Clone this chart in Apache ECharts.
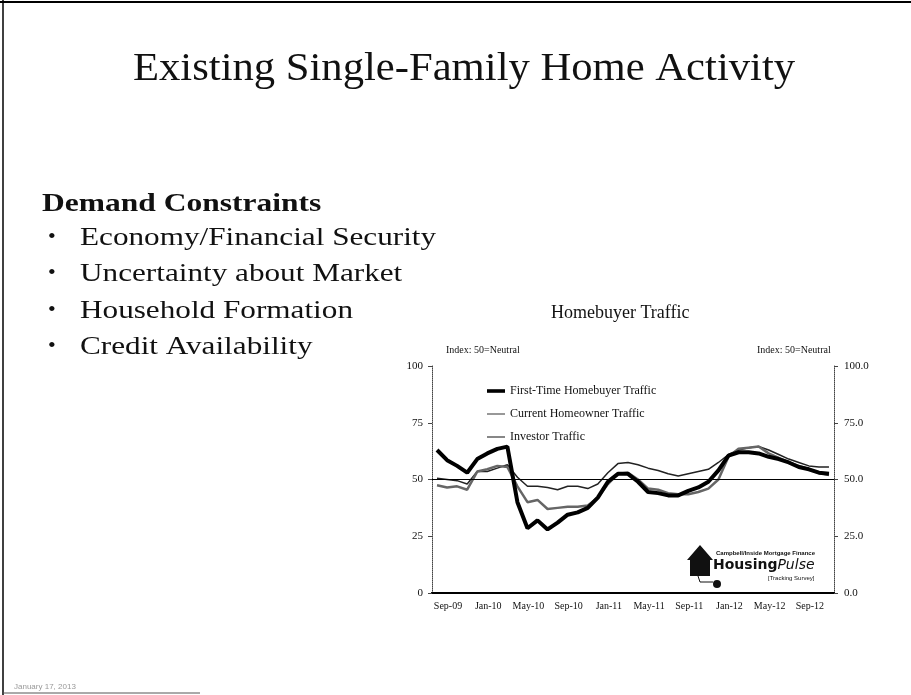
<!DOCTYPE html>
<html>
<head>
<meta charset="utf-8">
<script src="https://cdn.jsdelivr.net/npm/echarts@6/dist/echarts.min.js"></script>
<style>
  html, body { margin: 0; padding: 0; background: #fff; }
  #slide { width: 911px; height: 695px; }
</style>
</head>
<body>
<div id="slide"></div>
<script>
const categories = [
  "Sep-09", "Oct-09", "Nov-09", "Dec-09",
  "Jan-10", "Feb-10", "Mar-10", "Apr-10", "May-10", "Jun-10", "Jul-10", "Aug-10", "Sep-10", "Oct-10", "Nov-10", "Dec-10",
  "Jan-11", "Feb-11", "Mar-11", "Apr-11", "May-11", "Jun-11", "Jul-11", "Aug-11", "Sep-11", "Oct-11", "Nov-11", "Dec-11",
  "Jan-12", "Feb-12", "Mar-12", "Apr-12", "May-12", "Jun-12", "Jul-12", "Aug-12", "Sep-12", "Oct-12", "Nov-12", "Dec-12"
];
const firstTime = [63, 58.5, 56, 53, 59, 61.5, 63.5, 64.5, 40, 28.5,
  32, 28, 31, 34.5, 35.5, 37.5, 42, 49, 52.5, 52.5,
  49, 44.5, 44, 43, 43, 45, 46.5, 49, 54, 60.5,
  62, 62, 61.5, 60, 59, 57.5, 55.5, 54.5, 53, 52.5];
const currentOwner = [47.5, 46.5, 47, 45.5, 53.5, 54.5, 56, 55.5, 47, 40,
  41, 37, 37.5, 38, 38, 38.5, 42, 48, 52.5, 53,
  50, 46, 45.5, 44, 43.5, 43.5, 44.5, 46, 50, 60,
  63.5, 64, 64.5, 61.5, 59.5, 57.5, 56, 54.5, 53, 52];
const investor = [50.5, 50, 49.5, 48, 53.5, 53.5, 55, 56.5, 51, 47,
  47, 46.5, 45.5, 47, 47, 46, 48, 53, 57, 57.5,
  56.5, 55, 54, 52.5, 51.5, 52.5, 53.5, 54.5, 57.5, 61,
  63, 64, 64.5, 63, 61, 59, 57.5, 56, 55.5, 55.5];
const yTicks = [0, 25, 50, 75, 100];
const bullets = [
  "Economy/Financial Security",
  "Uncertainty about Market",
  "Household Formation",
  "Credit Availability"
];

const serif = "Liberation Serif";
const chart = echarts.init(document.getElementById("slide"));

// thin legend lines keep a 4px-high box so they sit centred like the thick one
const thickIcon = "path://M0,0L20,0L20,4L0,4Z";
const thinIcon = "path://M0,0L20,0L20,0.01L0,0.01Z M0,1.4L20,1.4L20,2.6L0,2.6Z M0,3.99L20,3.99L20,4L0,4Z";

// slide text + frame
const graphics = [
  { type: "line", shape: { x1: 0, y1: 2, x2: 911, y2: 2 }, style: { stroke: "#000", lineWidth: 2 } },
  { type: "line", shape: { x1: 3, y1: 0, x2: 3, y2: 695 }, style: { stroke: "#000", lineWidth: 1.5 } },
  { type: "line", shape: { x1: 3, y1: 693, x2: 200, y2: 693 }, style: { stroke: "#555", lineWidth: 1 } },
  {
    type: "text", left: 133, top: 49, scaleX: 1.04,
    style: { text: "Existing Single-Family Home Activity", font: "41px '" + serif + "'", fill: "#111" }
  },
  {
    type: "text", left: 42, top: 192, scaleX: 1.26,
    style: { text: "Demand Constraints", font: "bold 25px '" + serif + "'", fill: "#111" }
  },
  {
    type: "text", left: 551, top: 304,
    style: { text: "Homebuyer Traffic", font: "18px '" + serif + "'", fill: "#111" }
  },
  {
    type: "text", left: 446, top: 345,
    style: { text: "Index: 50=Neutral", font: "10px '" + serif + "'", fill: "#111" }
  },
  {
    type: "text", left: 757, top: 345,
    style: { text: "Index: 50=Neutral", font: "10px '" + serif + "'", fill: "#111" }
  },
  {
    type: "text", left: 14, top: 683,
    style: { text: "January 17, 2013", font: "8px sans-serif", fill: "#999" }
  },
  // HousingPulse logo
  {
    type: "polygon",
    shape: { points: [[687, 560], [700, 545], [713, 560], [710, 560], [710, 576], [690, 576], [690, 560]] },
    style: { fill: "#111" }
  },
  { type: "circle", shape: { cx: 717, cy: 584, r: 4 }, style: { fill: "#111" } },
  {
    type: "polyline", shape: { points: [[698, 576], [700, 582], [713, 582]] },
    style: { stroke: "#111", lineWidth: 1, fill: null }
  },
  {
    type: "text", left: 716, top: 550,
    style: { text: "Campbell/Inside Mortgage Finance", font: "bold 6px sans-serif", fill: "#111" }
  },
  {
    type: "text", left: 713, top: 558,
    style: {
      text: "{a|Housing}{b|Pulse}",
      rich: {
        a: { font: "bold 14px 'DejaVu Sans'", fill: "#111" },
        b: { font: "italic 14px 'DejaVu Sans'", fill: "#111" }
      }
    }
  },
  {
    type: "text", left: 768, top: 575,
    style: { text: "[Tracking Survey]", font: "6px sans-serif", fill: "#111" }
  }
];
bullets.forEach(function (b, i) {
  const y = 225 + i * 36.5;
  graphics.push({ type: "text", left: 48, top: y + 1, style: { text: "•", font: "22px '" + serif + "'", fill: "#111" } });
  graphics.push({ type: "text", left: 80, top: y, scaleX: 1.2, style: { text: b, font: "26px '" + serif + "'", fill: "#111" } });
});

chart.setOption({
  animation: false,
  backgroundColor: "#fff",
  textStyle: { fontFamily: serif },
  graphic: graphics,
  grid: { left: 432, right: 77, top: 366, bottom: 102 },
  legend: {
    orient: "vertical",
    left: 482,
    top: 379,
    itemWidth: 18,
    itemHeight: 4,
    itemGap: 9,
    textStyle: { fontFamily: serif, fontSize: 12, color: "#111", lineHeight: 14 },
    data: [
      { name: "First-Time Homebuyer Traffic", icon: thickIcon, itemStyle: { color: "#000" } },
      { name: "Current Homeowner Traffic", icon: thinIcon, itemStyle: { color: "#333" } },
      { name: "Investor Traffic", icon: thinIcon, itemStyle: { color: "#111" } }
    ]
  },
  xAxis: [
    {
      type: "category",
      data: categories,
      boundaryGap: true,
      axisLine: { lineStyle: { color: "#000", width: 2 } },
      axisTick: { show: false },
      axisLabel: {
        interval: 3,
        fontFamily: serif,
        fontSize: 10,
        color: "#111",
        margin: 8,
        padding: [0, 0, 0, 22]
      }
    },
    {
      type: "category",
      data: categories,
      position: "top",
      axisLine: { lineStyle: { color: "#000", width: 2 } },
      axisTick: { show: false },
      axisLabel: { show: false }
    }
  ],
  yAxis: [
    {
      type: "value",
      min: 0, max: 100, interval: 25,
      axisLine: { show: true, lineStyle: { color: "#444", type: "dotted", width: 1 } },
      axisTick: { show: true, length: 4, lineStyle: { color: "#444" } },
      splitLine: { show: false },
      axisLabel: { fontFamily: serif, fontSize: 11, color: "#111", margin: 9 }
    },
    {
      type: "value",
      position: "right",
      min: 0, max: 100, interval: 25,
      axisLine: { show: true, lineStyle: { color: "#444", type: "dotted", width: 1 } },
      axisTick: { show: true, length: 4, lineStyle: { color: "#444" } },
      splitLine: { show: false },
      axisLabel: {
        fontFamily: serif, fontSize: 11, color: "#111", margin: 10,
        formatter: function (v) { return v.toFixed(1); }
      }
    }
  ],
  series: [
    {
      name: "First-Time Homebuyer Traffic",
      type: "line",
      data: firstTime,
      symbol: "none",
      z: 5,
      lineStyle: { color: "#000", width: 4 },
      itemStyle: { color: "#000" },
      markLine: {
        silent: true,
        symbol: "none",
        label: { show: false },
        lineStyle: { color: "#000", width: 1.2, type: "solid" },
        data: [{ yAxis: yTicks[2] }]
      }
    },
    {
      name: "Current Homeowner Traffic",
      type: "line",
      data: currentOwner,
      symbol: "none",
      z: 4,
      lineStyle: { color: "#666", width: 2.5 },
      itemStyle: { color: "#444" }
    },
    {
      name: "Investor Traffic",
      type: "line",
      data: investor,
      symbol: "none",
      z: 3,
      lineStyle: { color: "#222", width: 1.5 },
      itemStyle: { color: "#222" }
    }
  ]
});
</script>
</body>
</html>
